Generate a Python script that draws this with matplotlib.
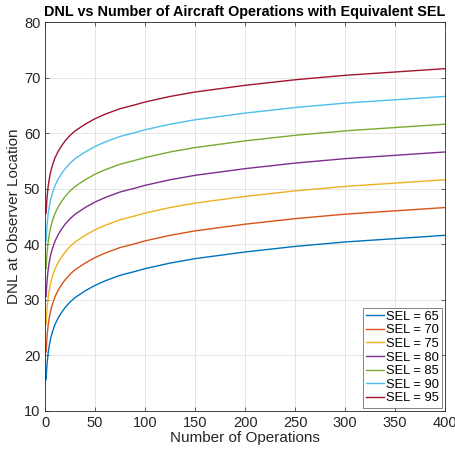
import matplotlib
matplotlib.use("Agg")
import matplotlib.pyplot as plt

# number of operations sampled along each curve
ops = [1, 1.5, 2, 3, 4, 5, 6, 8, 10, 13, 16, 20, 25, 30, 40, 50, 60, 75, 90, 100, 125,
       150, 175, 200, 250, 300, 350, 400]

sel_labels = ["SEL = 65", "SEL = 70", "SEL = 75", "SEL = 80", "SEL = 85", "SEL = 90", "SEL = 95"]

dnl_65 = [15.6, 17.4, 18.6, 20.4, 21.6, 22.6, 23.4, 24.6, 25.6, 26.7, 27.6, 28.6, 29.6, 30.4, 31.6,
          32.6, 33.4, 34.4, 35.1, 35.6, 36.6, 37.4, 38.0, 38.6, 39.6, 40.4, 41.0, 41.6]
dnl_70 = [20.6, 22.4, 23.6, 25.4, 26.6, 27.6, 28.4, 29.6, 30.6, 31.7, 32.6, 33.6, 34.6, 35.4, 36.6,
          37.6, 38.4, 39.4, 40.1, 40.6, 41.6, 42.4, 43.0, 43.6, 44.6, 45.4, 46.0, 46.6]
dnl_75 = [25.6, 27.4, 28.6, 30.4, 31.6, 32.6, 33.4, 34.6, 35.6, 36.7, 37.6, 38.6, 39.6, 40.4, 41.6,
          42.6, 43.4, 44.4, 45.1, 45.6, 46.6, 47.4, 48.0, 48.6, 49.6, 50.4, 51.0, 51.6]
dnl_80 = [30.6, 32.4, 33.6, 35.4, 36.6, 37.6, 38.4, 39.6, 40.6, 41.7, 42.6, 43.6, 44.6, 45.4, 46.6,
          47.6, 48.4, 49.4, 50.1, 50.6, 51.6, 52.4, 53.0, 53.6, 54.6, 55.4, 56.0, 56.6]
dnl_85 = [35.6, 37.4, 38.6, 40.4, 41.6, 42.6, 43.4, 44.6, 45.6, 46.7, 47.6, 48.6, 49.6, 50.4, 51.6,
          52.6, 53.4, 54.4, 55.1, 55.6, 56.6, 57.4, 58.0, 58.6, 59.6, 60.4, 61.0, 61.6]
dnl_90 = [40.6, 42.4, 43.6, 45.4, 46.6, 47.6, 48.4, 49.6, 50.6, 51.7, 52.6, 53.6, 54.6, 55.4, 56.6,
          57.6, 58.4, 59.4, 60.1, 60.6, 61.6, 62.4, 63.0, 63.6, 64.6, 65.4, 66.0, 66.6]
dnl_95 = [45.6, 47.4, 48.6, 50.4, 51.6, 52.6, 53.4, 54.6, 55.6, 56.7, 57.6, 58.6, 59.6, 60.4, 61.6,
          62.6, 63.4, 64.4, 65.1, 65.6, 66.6, 67.4, 68.0, 68.6, 69.6, 70.4, 71.0, 71.6]

# MATLAB default line colours
colors = ["#0072BD", "#D95319", "#EDB120", "#7E2F8E", "#77AC30", "#4DBEEE", "#A2142F"]

plt.rcParams["font.family"] = ["Liberation Sans", "DejaVu Sans"]

fig = plt.figure(figsize=(4.56, 4.49), dpi=100)
ax = fig.add_axes([0.099, 0.085, 0.877, 0.866])

for ys, lab, c in zip([dnl_65, dnl_70, dnl_75, dnl_80, dnl_85, dnl_90, dnl_95], sel_labels, colors):
    ax.plot(ops, ys, color=c, lw=1.0, label=lab)

ax.set_xlim(0, 400)
ax.set_ylim(10, 80)
ax.set_xticks(range(0, 401, 50))
ax.set_yticks(range(10, 81, 10))
ax.grid(True, color="#e6e6e6", lw=0.7)
ax.set_axisbelow(True)
for s in ax.spines.values():
    s.set_color("#262626")
    s.set_linewidth(0.6)
ax.tick_params(direction="in", length=3, width=0.5, labelsize=10.5, colors="#262626",
               top=True, right=True)

ax.set_title("DNL vs Number of Aircraft Operations with Equivalent SEL",
             fontsize=10.4, fontweight="bold", pad=4)
ax.set_xlabel("Number of Operations", fontsize=11, color="#262626", labelpad=1)
ax.set_ylabel("DNL at Observer Location", fontsize=11, color="#262626", labelpad=2)

leg = ax.legend(loc="lower right", fontsize=9.3, frameon=True, fancybox=False,
                handlelength=1.4, handletextpad=0.1, labelspacing=0.12,
                borderpad=0.25, borderaxespad=0.25)
leg.get_frame().set_edgecolor("#262626")
leg.get_frame().set_linewidth(0.5)

fig.savefig("out.png", dpi=100)
